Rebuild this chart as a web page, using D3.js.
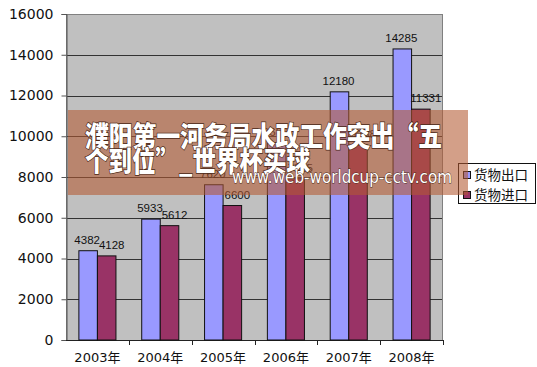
<!DOCTYPE html>
<html><head><meta charset="utf-8">
<script src="https://cdn.jsdelivr.net/npm/d3@7"></script>
<style>body{margin:0;background:#fff}svg{display:block}</style>
</head><body>
<svg id="c" width="537" height="367"></svg>
<script>
const categories = ["2003年","2004年","2005年","2006年","2007年","2008年"];
const seriesNames = ["货物出口","货物进口"];
const exportValues = [4382,5933,7620,9689,12180,14285];
const importValues = [4128,5612,6600,7915,9558,11331];
const yTicks = [0,2000,4000,6000,8000,10000,12000,14000,16000];
const colors = ["#9999FF","#993366"];

const svg = d3.select("#c");
const L=66, R=443, T=14, B=340;
const x = d3.scaleBand().domain(categories).range([L,R]).paddingInner(0.41).paddingOuter(0.205);
const xs = d3.scaleBand().domain(seriesNames).range([0,x.bandwidth()]);
const y = d3.scaleLinear().domain([0,16000]).range([B,T]);

svg.append("rect").attr("x",L).attr("y",T).attr("width",R-L).attr("height",B-T).attr("fill","#C0C0C0");
svg.append("g").selectAll("line").data(yTicks.filter(d=>d>0&&d<16000)).join("line")
  .attr("x1",L).attr("x2",R).attr("y1",d=>Math.round(y(d))+0.5).attr("y2",d=>Math.round(y(d))+0.5)
  .attr("stroke","#333").attr("stroke-width",1);
svg.append("rect").attr("x",L+0.5).attr("y",T+0.5).attr("width",R-L-1).attr("height",B-T).attr("fill","none").attr("stroke","#808080");

const yAxis = d3.axisLeft(y).tickValues(yTicks).tickSize(5).tickPadding(8).tickFormat(d3.format("d"));
const gy = svg.append("g").attr("transform",`translate(${L+0.5},0)`).call(yAxis);
gy.select(".domain").attr("stroke","#555");
gy.selectAll(".tick line").attr("stroke","#555");
gy.selectAll("text").attr("font-family","DejaVu Sans, sans-serif").attr("font-size","14px").attr("fill","#111");

const gx = svg.append("g").attr("transform",`translate(0,${B+0.5})`)
  .call(d3.axisBottom(x).tickSize(0).tickPadding(12));
gx.select(".domain").attr("stroke","#222").attr("d",`M${L},0H${R}`);
gx.selectAll("text").attr("font-family","DejaVu Sans, 'Noto Sans CJK SC', sans-serif").attr("font-size","13px").attr("fill","#111");
const step = x.step();
svg.append("g").selectAll("line").data(d3.range(1,categories.length+1)).join("line")
  .attr("x1",i=>Math.round(L+i*step)+0.5).attr("x2",i=>Math.round(L+i*step)+0.5)
  .attr("y1",B).attr("y2",B+5).attr("stroke","#222");

const data = categories.map((c,i)=>({c, vals:[exportValues[i],importValues[i]]}));
const groups = svg.append("g").selectAll("g").data(data).join("g")
  .attr("transform",d=>`translate(${x(d.c)},0)`);
groups.selectAll("rect").data(d=>d.vals.map((v,j)=>({v,s:seriesNames[j],j}))).join("rect")
  .attr("x",d=>xs(d.s)).attr("y",d=>y(d.v)).attr("width",xs.bandwidth()).attr("height",d=>B-y(d.v))
  .attr("fill",d=>colors[d.j]).attr("stroke","#111").attr("stroke-width",1);
groups.selectAll("text").data(d=>d.vals.map((v,j)=>({v,s:seriesNames[j],j}))).join("text")
  .attr("x",d=>xs(d.s)+xs.bandwidth()/2+(d.j===0?-1:5)).attr("y",d=>y(d.v)-7)
  .attr("text-anchor","middle").attr("font-family","Liberation Sans, Arial, sans-serif").attr("font-size","11.5px").attr("fill","#111")
  .text(d=>d.v);

const lg = svg.append("g");
lg.append("rect").attr("x",458.5).attr("y",163.5).attr("width",77).attr("height",40).attr("fill","#fff").attr("stroke","#111");
seriesNames.forEach((s,i)=>{
  lg.append("rect").attr("x",463.5).attr("y",171.5+i*20).attr("width",7).attr("height",7).attr("fill",colors[i]).attr("stroke","#111");
  lg.append("text").attr("x",474).attr("y",180+i*20).attr("font-family","'Noto Sans CJK SC', sans-serif").attr("font-size","13.5px").attr("fill","#111").text(s);
});

const ov = svg.append("g");
ov.append("rect").attr("x",68).attr("y",110).attr("width",400).attr("height",85).attr("fill","rgb(180,90,50)").attr("opacity",0.58);
const wmStyle = sel => sel.attr("fill","#fff").attr("stroke","#4a2818").attr("stroke-width",1.4).attr("paint-order","stroke")
  .attr("font-weight","900").attr("font-family","'Noto Sans CJK SC', sans-serif");
ov.append("text").attr("x",85).attr("y",147).attr("font-size","28px").attr("textLength",357).attr("lengthAdjust","spacingAndGlyphs")
  .call(wmStyle).text("濮阳第一河务局水政工作突出“五");
ov.append("text").attr("x",85).attr("y",172).attr("font-size","28px").attr("textLength",225).attr("lengthAdjust","spacingAndGlyphs")
  .call(wmStyle).text("个到位”_世界杯买球");
ov.append("text").attr("x",232).attr("y",183).attr("font-size","17px").attr("textLength",220).attr("lengthAdjust","spacingAndGlyphs")
  .attr("fill","#fff").attr("stroke","#4a2818").attr("stroke-width",0.8).attr("paint-order","stroke")
  .attr("font-family","DejaVu Sans, sans-serif").text("www.web-worldcup-cctv.com");
</script>
</body></html>
